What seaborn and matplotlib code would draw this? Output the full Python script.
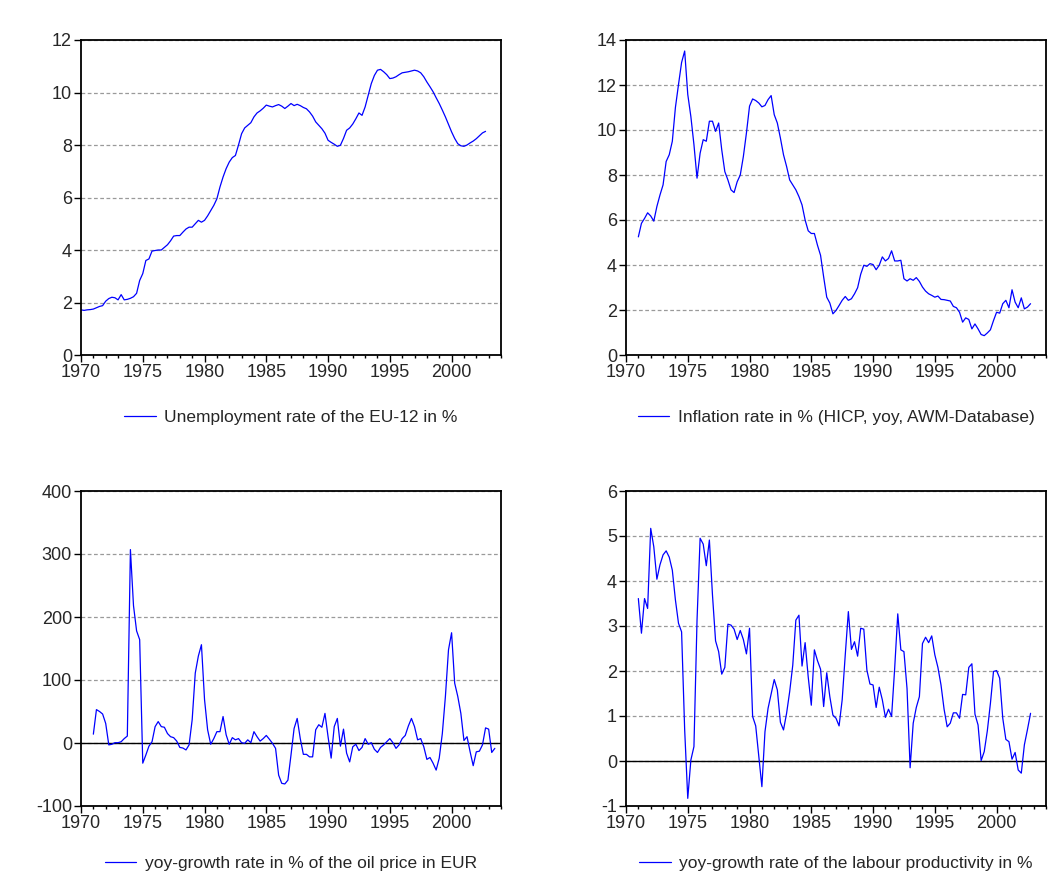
import numpy as np
import pandas as pd
import seaborn as sns
import matplotlib
matplotlib.use("Agg")
import matplotlib.pyplot as plt
from matplotlib.ticker import MultipleLocator

# quarterly series
unemp_start = 1970.0
unemp = [
    1.72, 1.70, 1.72, 1.73, 1.75, 1.80, 1.85, 1.88,
    2.05, 2.15, 2.20, 2.18, 2.10, 2.30, 2.10, 2.12,
    2.16, 2.22, 2.35, 2.84, 3.10, 3.60, 3.66, 3.96,
    3.98, 4.00, 4.00, 4.10, 4.20, 4.35, 4.53, 4.55,
    4.55, 4.68, 4.80, 4.87, 4.87, 5.00, 5.13, 5.06,
    5.13, 5.30, 5.50, 5.70, 5.95, 6.40, 6.78, 7.10,
    7.35, 7.52, 7.60, 8.00, 8.43, 8.65, 8.75, 8.85,
    9.07, 9.22, 9.30, 9.40, 9.52, 9.48, 9.45, 9.50,
    9.54, 9.48, 9.39, 9.48, 9.58, 9.50, 9.55, 9.50,
    9.43, 9.38, 9.26, 9.10, 8.88, 8.75, 8.62, 8.45,
    8.18, 8.10, 8.03, 7.95, 7.99, 8.25, 8.56, 8.65,
    8.80, 9.00, 9.22, 9.13, 9.45, 9.90, 10.34, 10.65,
    10.85, 10.88, 10.79, 10.68, 10.53, 10.55, 10.60, 10.68,
    10.75, 10.77, 10.79, 10.82, 10.85, 10.82, 10.75, 10.60,
    10.40, 10.22, 10.03, 9.80, 9.58, 9.33, 9.07, 8.78,
    8.50, 8.25, 8.05, 7.97, 7.95, 8.00, 8.08, 8.15,
    8.24, 8.35, 8.46, 8.52,
]

infl_start = 1971.0
infl = [
    5.25, 5.85, 6.07, 6.32, 6.18, 5.95, 6.60, 7.11,
    7.56, 8.60, 8.90, 9.50, 11.00, 12.02, 13.00, 13.51,
    11.58, 10.60, 9.35, 7.86, 8.97, 9.57, 9.50, 10.39,
    10.39, 9.94, 10.31, 9.12, 8.15, 7.78, 7.34, 7.22,
    7.70, 8.00, 8.82, 9.87, 11.06, 11.38, 11.31, 11.20,
    11.03, 11.09, 11.35, 11.53, 10.68, 10.31, 9.64, 8.90,
    8.38, 7.78, 7.56, 7.34, 7.04, 6.67, 6.00, 5.52,
    5.40, 5.40, 4.88, 4.43, 3.47, 2.57, 2.31, 1.83,
    1.98, 2.20, 2.43, 2.60, 2.43, 2.50, 2.72, 2.99,
    3.59, 3.99, 3.94, 4.06, 4.02, 3.79, 3.99, 4.36,
    4.18, 4.29, 4.63, 4.18, 4.18, 4.21, 3.39, 3.29,
    3.39, 3.32, 3.44, 3.27, 3.02, 2.84, 2.72, 2.65,
    2.57, 2.62, 2.47, 2.46, 2.43, 2.40, 2.16, 2.10,
    1.90, 1.46, 1.65, 1.58, 1.16, 1.38, 1.16, 0.91,
    0.86, 0.98, 1.12, 1.53, 1.90, 1.86, 2.28, 2.43,
    2.10, 2.90, 2.35, 2.10, 2.54, 2.05, 2.13, 2.28,
]

oil_start = 1971.0
oil = [
    14, 53, 50, 46, 31, -3, -2, 0.5,
    0.5, 2, 7, 11, 307, 218, 178, 164,
    -32, -19, -5, 2, 26, 34, 26, 25,
    15, 10, 8.5, 3, -7, -8, -11, -3,
    37, 111, 138, 156, 69, 21, -2, 7,
    18, 18, 42, 13, -2, 8.5, 5, 7,
    0.5, -0.5, 5, 0.5, 18, 10, 3, 7,
    12, 6, -0.5, -8.5, -51, -64, -65, -59,
    -19, 23, 39, 7, -18, -18, -22, -22,
    21, 29, 25, 47, 10, -24, 26, 39,
    -5, 22, -16, -30, -6, -2, -12, -7,
    7, -2, 0.5, -10, -15, -7, -3, 2,
    7, 0.5, -8.5, -3, 7, 12, 27, 39,
    26, 5, 7, -6, -26, -23, -32, -43,
    -24, 15, 74, 148, 175, 95, 74, 47,
    4, 10, -14, -36, -14, -13, -3, 24,
    22, -15, -8.5,
]

prod_start = 1971.0
prod = [
    3.61, 2.84, 3.61, 3.39, 5.17, 4.76, 4.04, 4.36,
    4.58, 4.67, 4.53, 4.24, 3.58, 3.06, 2.87, 0.69,
    -0.83, 0.02, 0.32, 3.13, 4.95, 4.82, 4.34, 4.91,
    3.69, 2.67, 2.43, 1.93, 2.08, 3.04, 3.02, 2.93,
    2.70, 2.90, 2.70, 2.38, 2.95, 0.99, 0.78, 0.11,
    -0.57, 0.65, 1.17, 1.49, 1.81, 1.58, 0.86, 0.69,
    1.06, 1.54, 2.13, 3.13, 3.24, 2.11, 2.63, 1.87,
    1.24, 2.47, 2.23, 2.04, 1.21, 1.96, 1.43, 1.02,
    0.95, 0.78, 1.36, 2.36, 3.32, 2.48, 2.65, 2.33,
    2.95, 2.93, 2.02, 1.71, 1.69, 1.19, 1.64, 1.36,
    0.97, 1.15, 0.99, 2.06, 3.27, 2.47, 2.43, 1.61,
    -0.15, 0.84, 1.19, 1.43, 2.61, 2.75, 2.63, 2.78,
    2.36, 2.08, 1.69, 1.15, 0.76, 0.84, 1.07, 1.07,
    0.95, 1.48, 1.47, 2.08, 2.16, 1.04, 0.80, 0.01,
    0.21, 0.67, 1.28, 1.99, 2.01, 1.84, 0.95, 0.48,
    0.43, 0.04, 0.19, -0.20, -0.27, 0.36, 0.70, 1.06,
]

labels = [
    "Unemployment rate of the EU-12 in %",
    "Inflation rate in % (HICP, yoy, AWM-Database)",
    "yoy-growth rate in % of the oil price in EUR",
    "yoy-growth rate of the labour productivity in %",
]
y_ranges = [(0, 12, 2), (0, 14, 2), (-100, 400, 100), (-1, 6, 1)]


def quarterly(start, values):
    t = start + np.arange(len(values)) / 4.0
    return pd.DataFrame({"t": t, "v": values})


frames = [
    quarterly(unemp_start, unemp),
    quarterly(infl_start, infl),
    quarterly(oil_start, oil),
    quarterly(prod_start, prod),
]

sns.set_style("white")
plt.rcParams["font.family"] = ["Liberation Sans", "DejaVu Sans"]
plt.rcParams["axes.unicode_minus"] = False

fig = plt.figure(figsize=(10.49, 8.91), dpi=100)
W, H = 1049, 891
boxes = [(81, 40), (626, 40), (81, 491), (626, 491)]
aw, ah = 420, 315
legend_y = [-0.197, -0.197, -0.182, -0.182]

for i, (df, lab, (lo, hi, step)) in enumerate(zip(frames, labels, y_ranges)):
    x0, y0 = boxes[i]
    ax = fig.add_axes([x0 / W, 1 - (y0 + ah) / H, aw / W, ah / H])
    sns.lineplot(data=df, x="t", y="v", ax=ax, color="#0000ff",
                 linewidth=0.9, label=lab)
    ax.set_xlim(1970, 2004)
    ax.set_ylim(lo, hi)
    ax.xaxis.set_minor_locator(MultipleLocator(1))
    ax.yaxis.set_major_locator(MultipleLocator(step))
    ax.set_xticks(np.arange(1970, 2001, 5))
    ax.set_xlabel("")
    ax.set_ylabel("")
    ax.tick_params(axis="both", which="major", direction="out", length=5,
                   width=1, color="black", labelsize=13, pad=1.5,
                   bottom=True, left=True, top=False, right=False)
    ax.tick_params(axis="x", which="minor", direction="out", length=2.5,
                   width=1, color="black", bottom=True, top=False)
    ax.yaxis.grid(True, linestyle=(0, (3, 2)), color="#9a9a9a", linewidth=0.9)
    ax.xaxis.grid(False)
    ax.set_axisbelow(True)
    if lo < 0:
        ax.axhline(0, color="black", linewidth=1.0, zorder=1.5)
    for sp in ax.spines.values():
        sp.set_color("black")
        sp.set_linewidth(1.3)
    ax.legend(loc="center", bbox_to_anchor=(0.5, legend_y[i]), frameon=False,
              fontsize=12.5, handlelength=1.8, handletextpad=0.5)

fig.savefig("out.png", dpi=100, facecolor="white")
